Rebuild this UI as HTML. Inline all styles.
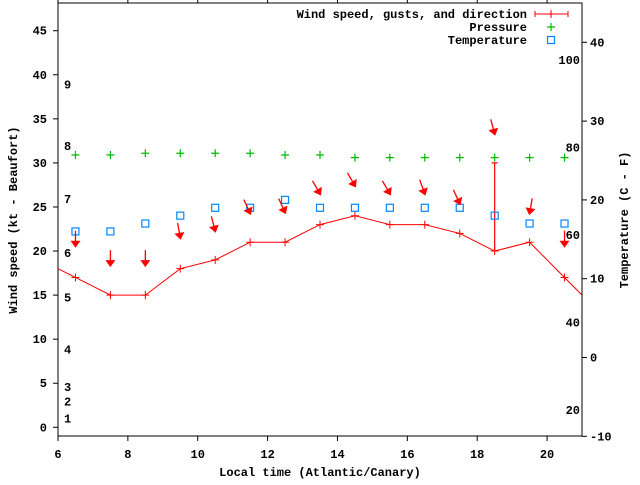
<!DOCTYPE html>
<html><head><meta charset="utf-8"><style>
body{margin:0;background:#fff}
svg text{font-family:"Liberation Mono",monospace;font-size:12px;font-weight:bold;fill:#000}
</style></head><body>
<svg id="chart" width="640" height="480" xmlns="http://www.w3.org/2000/svg">
<g id="g"></g>
</svg>
<script>
const hours=[6.5,7.5,8.5,9.5,10.5,11.5,12.5,13.5,14.5,15.5,16.5,17.5,18.5,19.5,20.5];
const wind=[17,15,15,18,19,21,21,23,24,23,23,22,20,21,17];
const gustHour=[18.5];
const gustVal=[30];
const gustBase=[20];
const pressure=[30.9,30.9,31.1,31.1,31.1,31.1,30.9,30.9,30.6,30.6,30.6,30.6,30.6,30.6,30.6];
const tempC=[16,16,17,18,19,19,20,19,19,19,19,19,18,17,17];
const arrowKt=[20.6,18.4,18.4,21.5,22.3,24.3,24.4,26.5,27.4,26.5,26.5,25.4,33.3,24.3,20.6];
const arrowDir=[0,0,0,10,15,25,25,30,30,30,20,25,15,350,0];
const xTicks=[6,8,10,12,14,16,18,20];
const yTicks=[0,5,10,15,20,25,30,35,40,45];
const cTicks=[-10,0,10,20,30,40];
const fTicks=[20,40,60,80,100];
const bftLabels=["1","2","3","4","5","6","7","8","9"];
const bftKt=[1,2.9,4.6,8.8,14.7,19.8,25.9,31.9,38.9];

const L=58,R=582,T=3,B=436;
const X=h=>L+(h-6)*(R-L)/15;
const Y=k=>427.3-k*8.813;
const YC=c=>436.3-(c+10)*7.88;
const YF=f=>YC((f-32)*5/9);
const g=document.getElementById('g');
const NS='http://www.w3.org/2000/svg';
function mk(tag,attrs,name,parent){const e=document.createElementNS(NS,tag);for(const k in attrs)e.setAttribute(k,attrs[k]);


(parent||g).appendChild(e);return e;}
function txt(x,y,s,anchor,name){const t=mk('text',{x:x,y:y,'text-anchor':anchor||'start'},name);t.textContent=s;return t;}

// clip
const defs=mk('defs',{},'defs');const cp=mk('clipPath',{id:'cp'},'clip',defs);mk('rect',{x:L,y:T,width:R-L,height:B-T},'clip-rect',cp);
mk('rect',{x:L,y:T,width:R-L,height:B-T,fill:'none',stroke:'#000','stroke-width':1},'plot-border');
xTicks.forEach(v=>{const x=X(v);
mk('line',{x1:x,y1:B,x2:x,y2:B+5,stroke:'#000'},'x-tick');
mk('line',{x1:x,y1:T,x2:x,y2:T-5,stroke:'#000'},'x-tick-top');
txt(x,458,String(v),'middle','x-tick-label');});
yTicks.forEach(v=>{const y=Y(v);mk('line',{x1:L-5,y1:y,x2:L,y2:y,stroke:'#000'},'y-tick');txt(47,y+4,String(v),'end','y-tick-label');});
cTicks.forEach(v=>{const y=YC(v);mk('line',{x1:R,y1:y,x2:R+5,y2:y,stroke:'#000'},'temp-c-tick');txt(590,y+4,String(v),'start','temp-c-label');});
fTicks.forEach(v=>{txt(580,YF(v)+4,String(v),'end','temp-f-label');});
bftLabels.forEach((s,i)=>txt(64,Y(bftKt[i])+4,s,'start','beaufort-label'));
txt(320,476,'Local time (Atlantic/Canary)','middle','x-axis-title');
const yt=txt(0,0,'Wind speed (kt - Beaufort)','middle','y-axis-title');yt.setAttribute('transform','translate(17,220) rotate(-90)');
const yt2=txt(0,0,'Temperature (C - F)','middle','y2-axis-title');yt2.setAttribute('transform','translate(628,220) rotate(-90)');

const pg=mk('g',{'clip-path':'url(#cp)'},'plot-area');
// wind line extended
let pts=[[X(6),Y(wind[0]+(wind[0]-wind[1])/2)]];
hours.forEach((h,i)=>pts.push([X(h),Y(wind[i])]));
const n=hours.length;pts.push([X(21),Y(wind[n-1]+(wind[n-1]-wind[n-2])/2)]);
mk('polyline',{points:pts.map(p=>p.join(',')).join(' '),fill:'none',stroke:'#f00','stroke-width':1},'wind-line',pg);
hours.forEach((h,i)=>{const x=X(h),y=Y(wind[i]);mk('path',{d:`M${x-4},${y}H${x+4}M${x},${y-4}V${y+4}`,stroke:'#f00'},'wind-point',pg);});
gustHour.forEach((h,i)=>{const x=X(h);mk('path',{d:`M${x},${Y(gustBase[i])}V${Y(gustVal[i])}M${x-3},${Y(gustVal[i])}H${x+3}`,stroke:'#f00','stroke-width':1.2},'gust-bar',pg);});
pressure.forEach((p,i)=>{const x=X(hours[i]),y=Y(p);mk('path',{d:`M${x-4},${y}H${x+4}M${x},${y-4}V${y+4}`,stroke:'#0b0','stroke-width':1.2},'pressure-point',pg);});
tempC.forEach((c,i)=>{const x=X(hours[i]),y=YC(c);mk('rect',{x:x-3.5,y:y-3.5,width:7,height:7,fill:'none',stroke:'#08f','stroke-width':1.2},'temp-point',pg);});
arrowKt.forEach((k,i)=>{const x=X(hours[i]),y=Y(k);const a=mk('g',{transform:`translate(${x},${y}) rotate(${-arrowDir[i]})`},'wind-dir-arrow',pg);
mk('line',{x1:0,y1:-15,x2:0,y2:-4,stroke:'#f00','stroke-width':1.3},'arrow-shaft',a);
mk('polygon',{points:'-5,-5 5,-5 0,2',fill:'#f00'},'arrow-head',a);});

// legend
const leg=[['Wind speed, gusts, and direction','#f00','bar'],['Pressure','#0b0','plus'],['Temperature','#08f','sq']];
leg.forEach((l,i)=>{const y=14+i*13;txt(527,y+4,l[0],'end','legend-label');const cx=564;
if(l[2]=='bar')mk('path',{d:`M535,${y}H568M535,${y-3}V${y+3}M568,${y-3}V${y+3}M551,${y-4}V${y+4}`,stroke:l[1]},'legend-wind-sample');
else if(l[2]=='plus')mk('path',{d:`M${551-4},${y}H${551+4}M551,${y-4}V${y+4}`,stroke:l[1],'stroke-width':1.2},'legend-pressure-sample');
else mk('rect',{x:551-3.5,y:y-3.5,width:7,height:7,fill:'none',stroke:l[1],'stroke-width':1.2},'legend-temp-sample');});
</script>
</body></html>
